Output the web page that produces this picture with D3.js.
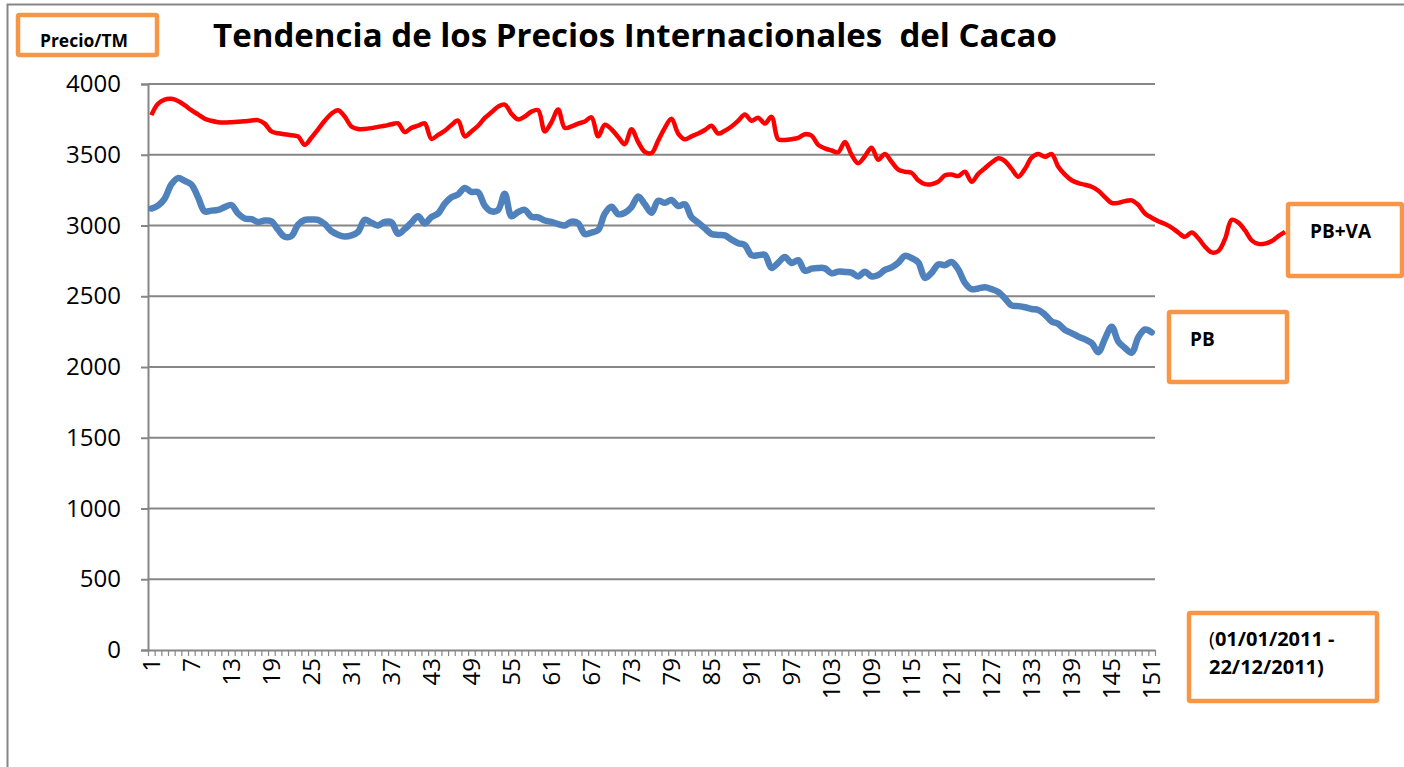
<!DOCTYPE html>
<html>
<head>
<meta charset="utf-8">
<script src="https://cdn.jsdelivr.net/npm/d3@7"></script>
<style>
  body { margin: 0; background: #fff; }
  svg { display: block; font-family: "Open Sans", sans-serif; }
</style>
</head>
<body>
<div id="chart"></div>
<script>
// Categories 1..151 (days of the series), every 6th gets a label
const categories = d3.range(1, 152);
const tickLabels = categories.filter(d => (d - 1) % 6 === 0);
const yTicks = [0, 500, 1000, 1500, 2000, 2500, 3000, 3500, 4000];

// PB (precio base) - blue series
const pb = [
  3120, 3140, 3190, 3290, 3335, 3315, 3290, 3200, 3100, 3105,
  3110, 3130, 3145, 3085, 3050, 3045, 3025, 3035, 3030, 2970,
  2920, 2925, 3005, 3040, 3042, 3040, 3010, 2960, 2935, 2922,
  2930, 2955, 3040, 3020, 3000, 3025, 3022, 2942, 2975, 3020,
  3065, 3015, 3060, 3085, 3155, 3200, 3220, 3265, 3238, 3235,
  3140, 3100, 3110, 3225, 3065, 3095, 3110, 3062, 3058, 3035,
  3025, 3010, 3000, 3027, 3015, 2940, 2950, 2968, 3085, 3133,
  3080, 3090, 3130, 3205, 3150, 3090, 3175, 3160, 3180, 3138,
  3150, 3058, 3020, 2980, 2940, 2933, 2930, 2900, 2875, 2862,
  2790, 2790, 2792, 2700, 2737, 2778, 2735, 2755, 2680, 2695,
  2700, 2697, 2662, 2674, 2672, 2667, 2640, 2674, 2640, 2650,
  2686, 2704, 2737, 2785, 2770, 2740, 2630, 2665, 2725, 2720,
  2742, 2690, 2595, 2550, 2555, 2563, 2550, 2530, 2485, 2435,
  2430, 2422, 2410, 2403, 2370, 2322, 2305, 2262, 2240, 2215,
  2195, 2170, 2105, 2200, 2285, 2180, 2135, 2100, 2210, 2265,
  2245
];

// PB+VA (precio base + valor agregado) - red series, runs past the last category
const pbva = [
  3780, 3860, 3890, 3895, 3880, 3850, 3815, 3785, 3755, 3740,
  3730, 3728, 3730, 3733, 3737, 3742, 3745, 3720, 3665, 3652,
  3645, 3638, 3630, 3570, 3620, 3680, 3740, 3790, 3815, 3770,
  3700, 3682, 3682, 3688, 3697, 3705, 3715, 3722, 3660, 3690,
  3705, 3722, 3612, 3640, 3670, 3710, 3741, 3630, 3665, 3705,
  3760, 3800, 3840, 3855, 3790, 3750, 3770, 3805, 3815, 3665,
  3730, 3820, 3690, 3700, 3720, 3735, 3765, 3630, 3712, 3680,
  3625, 3575, 3680, 3590, 3520, 3512, 3600, 3690, 3755, 3650,
  3610, 3630, 3650, 3675, 3705, 3650, 3670, 3700, 3740, 3785,
  3740, 3762, 3720, 3768, 3610, 3605, 3610, 3620, 3645, 3635,
  3570, 3545, 3530, 3518, 3590, 3500, 3440, 3490, 3550, 3465,
  3505, 3450, 3395, 3380, 3372, 3320, 3292, 3292, 3310, 3355,
  3360, 3350, 3380, 3310, 3365, 3405, 3445, 3475, 3455, 3400,
  3345, 3400, 3480, 3505, 3485, 3505, 3416, 3360, 3320, 3300,
  3288, 3274, 3245, 3200, 3160, 3160, 3172, 3178, 3145, 3085,
  3055, 3030, 3010, 2985, 2950, 2920, 2950, 2910, 2850, 2810,
  2820, 2905, 3040, 3020, 2965, 2895, 2870, 2872, 2890, 2925,
  2955
];

const width = 1404, height = 767;
const margin = { top: 84, right: 249, bottom: 117, left: 148 };
const gray = "#868686";
const orange = "#F79646";

const svg = d3.select("#chart").append("svg")
  .attr("width", width)
  .attr("height", height);

// chart frame
svg.append("rect")
  .attr("x", 7.5).attr("y", 4.5)
  .attr("width", 1500).attr("height", 1000)
  .attr("fill", "none").attr("stroke", gray).attr("stroke-width", 2);

const x = d3.scaleLinear()
  .domain([0.5, categories.length + 0.5])
  .range([margin.left, width - margin.right]);

const y = d3.scaleLinear()
  .domain([0, 4000])
  .range([height - margin.bottom, margin.top]);

// gridlines
svg.append("g")
  .selectAll("line")
  .data(yTicks.slice(1))
  .join("line")
  .attr("x1", x.range()[0]).attr("x2", x.range()[1])
  .attr("y1", d => y(d)).attr("y2", d => y(d))
  .attr("stroke", gray).attr("stroke-width", 2);

// y axis
const yAxis = svg.append("g")
  .attr("transform", `translate(${margin.left},0)`)
  .call(d3.axisLeft(y).tickValues(yTicks).tickFormat(d3.format("d"))
    .tickSize(7).tickPadding(20));
yAxis.select(".domain").attr("stroke", gray).attr("stroke-width", 2);
yAxis.selectAll(".tick line").attr("stroke", gray).attr("stroke-width", 2);
yAxis.selectAll("text")
  .attr("font-size", 24).attr("fill", "#000")
  .attr("font-family", "Open Sans");

// x axis: tick marks between categories
const xAxis = svg.append("g")
  .attr("transform", `translate(0,${y(0)})`)
  .call(d3.axisBottom(x)
    .tickValues(d3.range(0.5, categories.length + 1, 1))
    .tickFormat("")
    .tickSize(6)
    .tickSizeOuter(0));
xAxis.select(".domain").attr("stroke", gray).attr("stroke-width", 2);
xAxis.selectAll(".tick line").attr("stroke", gray).attr("stroke-width", 1.2);

// x labels, rotated
svg.append("g")
  .selectAll("text")
  .data(tickLabels)
  .join("text")
  .attr("transform", d => `translate(${x(d)},${y(0) + 8}) rotate(-90)`)
  .attr("text-anchor", "end")
  .attr("dy", "0.36em")
  .attr("font-size", 24)
  .attr("fill", "#000")
  .text(d => d);

// lines
const line = d3.line()
  .x((d, i) => x(i + 1))
  .y(d => y(d))
  .curve(d3.curveCatmullRom.alpha(0.5));

svg.append("path")
  .datum(pb)
  .attr("d", line)
  .attr("fill", "none")
  .attr("stroke", "#4F81BD")
  .attr("stroke-width", 6.5)
  .attr("stroke-linejoin", "round")
  .attr("stroke-linecap", "round");

svg.append("path")
  .datum(pbva)
  .attr("d", line)
  .attr("fill", "none")
  .attr("stroke", "#FF0000")
  .attr("stroke-width", 4.5)
  .attr("stroke-linejoin", "round");

// orange label boxes
function labelBox(bx, by, bw, bh) {
  svg.append("rect")
    .attr("x", bx).attr("y", by)
    .attr("width", bw).attr("height", bh)
    .attr("fill", "#fff")
    .attr("stroke", orange).attr("stroke-width", 4.5)
    .attr("rx", 1.5);
}

labelBox(18, 15, 139, 40);
svg.append("text")
  .attr("x", 40).attr("y", 47)
  .attr("font-size", 17).attr("font-weight", "bold")
  .attr("textLength", 88).attr("lengthAdjust", "spacingAndGlyphs")
  .text("Precio/TM");

// title (keeps the double space before "del")
svg.append("text")
  .attr("x", 213).attr("y", 47)
  .attr("font-size", 33).attr("font-weight", "bold")
  .style("white-space", "pre")
  .attr("textLength", 844).attr("lengthAdjust", "spacingAndGlyphs")
  .text("Tendencia de los Precios Internacionales  del Cacao");

labelBox(1288, 204, 114, 72);
svg.append("text")
  .attr("x", 1310).attr("y", 238)
  .attr("font-size", 19).attr("font-weight", "bold")
  .text("PB+VA");

labelBox(1169, 312, 118, 70);
svg.append("text")
  .attr("x", 1190).attr("y", 346)
  .attr("font-size", 19).attr("font-weight", "bold")
  .text("PB");

labelBox(1189, 613, 188, 88);
const dateText = svg.append("text")
  .attr("font-size", 20).attr("font-weight", "bold");
dateText.append("tspan")
  .attr("x", 1209).attr("y", 646)
  .attr("font-weight", "normal").text("(");
dateText.append("tspan").text("01/01/2011 -");
dateText.append("tspan")
  .attr("x", 1209).attr("y", 674)
  .text("22/12/2011)");
</script>
</body>
</html>
